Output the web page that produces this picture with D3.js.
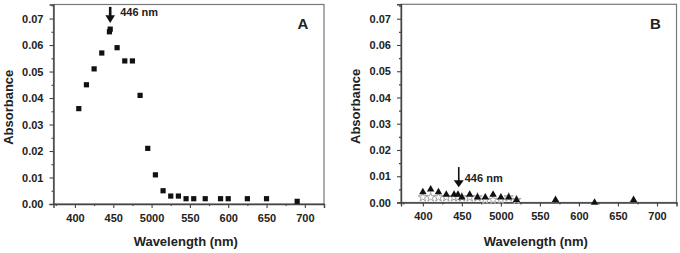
<!DOCTYPE html>
<html>
<head>
<meta charset="utf-8">
<script src="https://cdn.jsdelivr.net/npm/d3@7"></script>
<style>
  body { margin: 0; background: #fff; }
  svg text { font-family: "Liberation Sans", Arial, sans-serif; fill: #222; }
</style>
</head>
<body>
<svg id="chart" width="680" height="253"></svg>
<script>
const svg = d3.select("#chart");

// panel A: wavelength (nm) and absorbance
const waveA = [405, 415, 425, 435, 445, 446, 455, 465, 475, 485, 495, 505, 515, 525, 535, 545, 555, 570, 590, 600, 625, 650, 690];
const absA = [0.036, 0.045, 0.051, 0.057, 0.065, 0.066, 0.059, 0.054, 0.054, 0.041, 0.021, 0.011, 0.005, 0.003, 0.003, 0.002, 0.002, 0.002, 0.002, 0.002, 0.002, 0.002, 0.001];

// panel B: triangles (black) and stars (grey)
const waveB = [400, 410, 420, 430, 440, 445, 450, 460, 470, 480, 490, 500, 510, 520, 570, 620, 670];
const absB = [0.004, 0.005, 0.004, 0.003, 0.003, 0.003, 0.002, 0.003, 0.002, 0.002, 0.003, 0.002, 0.002, 0.001, 0.001, 0.000, 0.001];
const waveStar = [400, 410, 420, 430, 440, 445, 450, 460, 470, 480, 490, 500, 510, 520];
const absStar = [0.002, 0.002, 0.002, 0.002, 0.002, 0.002, 0.002, 0.002, 0.002, 0.001, 0.001, 0.001, 0.002, 0.001];

const xTicks = [400, 450, 500, 550, 600, 650, 700];
const xTickLabels = ["400", "450", "5000", "550", "600", "650", "700"];
const xMinor = [375, 425, 475, 525, 575, 625, 675, 725];
const yTicks = [0, 0.01, 0.02, 0.03, 0.04, 0.05, 0.06, 0.07];
const yTickLabels = ["0.00", "0.01", "0.02", "0.03", "0.04", "0.05", "0.06", "0.07"];
const yMinor = [0.005, 0.015, 0.025, 0.035, 0.045, 0.055, 0.065, 0.075];

const peak = 446;
const peakLabel = "446 nm";

function panel(opt) {
  const x = d3.scaleLinear().domain([372, 725]).range([opt.left, opt.right]);
  const y = d3.scaleLinear().domain([0, opt.yMax]).range([opt.bottom, opt.top]);
  const g = svg.append("g");

  // frame
  g.append("rect")
    .attr("x", opt.left).attr("y", opt.top)
    .attr("width", opt.right - opt.left).attr("height", opt.bottom - opt.top)
    .attr("fill", "none").attr("stroke", "#777").attr("stroke-width", 1.2);

  const ax = g.append("g").attr("transform", `translate(0,${opt.bottom})`)
    .call(d3.axisBottom(x).tickValues(xTicks).tickSize(4).tickPadding(6)
      .tickFormat((d, i) => xTickLabels[i]));
  g.append("g").attr("transform", `translate(0,${opt.bottom})`)
    .call(d3.axisBottom(x).tickValues(xMinor).tickSize(2).tickFormat(""))
    .select(".domain").remove();

  const ay = g.append("g").attr("transform", `translate(${opt.left},0)`)
    .call(d3.axisLeft(y).tickValues(yTicks).tickSize(4).tickPadding(6)
      .tickFormat((d, i) => yTickLabels[i]));
  g.append("g").attr("transform", `translate(${opt.left},0)`)
    .call(d3.axisLeft(y).tickValues(yMinor).tickSize(2).tickFormat(""))
    .select(".domain").remove();

  g.selectAll(".domain").attr("stroke", "#444").attr("stroke-width", 1.4);
  g.selectAll(".tick line").attr("stroke", "#444").attr("stroke-width", 1.1);
  g.selectAll(".tick text")
    .style("font-family", "'Liberation Sans', Arial, sans-serif")
    .style("font-size", "11px").style("font-weight", "bold").attr("fill", "#2a2a2a");

  g.append("text")
    .attr("x", (opt.left + opt.right) / 2 - 3).attr("y", 246)
    .attr("text-anchor", "middle")
    .style("font-size", "13px").style("font-weight", "bold").attr("fill", "#333")
    .text("Wavelength (nm)");
  g.append("text")
    .attr("transform", `translate(${opt.left - 41},${(opt.top + opt.bottom) / 2 + 3}) rotate(-90)`)
    .attr("text-anchor", "middle")
    .style("font-size", "13px").style("font-weight", "bold").attr("fill", "#333")
    .text("Absorbance");

  g.append("text")
    .attr("x", opt.right - 21).attr("y", 29)
    .attr("text-anchor", "middle")
    .style("font-size", "15px").style("font-weight", "bold").attr("fill", "#111")
    .text(opt.letter);

  return { g, x, y };
}

// ---- panel A ----
const A = panel({ left: 53.5, right: 324, top: 4.5, bottom: 204, yMax: 0.0753, letter: "A" });
A.g.selectAll("rect.pt")
  .data(waveA.map((w, i) => [w, absA[i]]))
  .join("rect").attr("class", "pt")
  .attr("x", d => A.x(d[0]) - 2.6).attr("y", d => A.y(d[1]) - 2.6)
  .attr("width", 5.2).attr("height", 5.2).attr("fill", "#111");

// arrow A
const axA = A.x(peak);
A.g.append("line")
  .attr("x1", axA).attr("x2", axA)
  .attr("y1", A.y(0.0744)).attr("y2", A.y(0.0705))
  .attr("stroke", "#111").attr("stroke-width", 2.6);
A.g.append("path")
  .attr("d", `M${axA - 4.8},${A.y(0.0712)} L${axA + 4.8},${A.y(0.0712)} L${axA},${A.y(0.0683)} Z`)
  .attr("fill", "#111");
A.g.append("text")
  .attr("x", axA + 10).attr("y", A.y(0.0726) + 4)
  .style("font-size", "11px").style("font-weight", "bold").attr("fill", "#333")
  .text(peakLabel);

// ---- panel B ----
const B = panel({ left: 401, right: 676.5, top: 4.3, bottom: 202.5, yMax: 0.0755, letter: "B" });
const star = d3.symbol().type(d3.symbolStar).size(26);
B.g.selectAll("path.star")
  .data(waveStar.map((w, i) => [w, absStar[i]]))
  .join("path").attr("class", "star")
  .attr("transform", d => `translate(${B.x(d[0])},${B.y(d[1])})`)
  .attr("d", star)
  .attr("fill", "#fff").attr("stroke", "#999").attr("stroke-width", 0.9);
const tri = d3.symbol().type(d3.symbolTriangle).size(24);
B.g.selectAll("path.tri")
  .data(waveB.map((w, i) => [w, absB[i]]))
  .join("path").attr("class", "tri")
  .attr("transform", d => `translate(${B.x(d[0])},${B.y(d[1])})`)
  .attr("d", tri).attr("fill", "#111");

// arrow B
const axB = B.x(peak);
B.g.append("line")
  .attr("x1", axB).attr("x2", axB)
  .attr("y1", B.y(0.0135)).attr("y2", B.y(0.0075))
  .attr("stroke", "#111").attr("stroke-width", 1.6);
B.g.append("path")
  .attr("d", `M${axB - 5},${B.y(0.0085)} L${axB + 5},${B.y(0.0085)} L${axB},${B.y(0.0058)} Z`)
  .attr("fill", "#111");
B.g.append("text")
  .attr("x", axB + 6).attr("y", B.y(0.0095) + 4)
  .style("font-size", "11px").style("font-weight", "bold").attr("fill", "#333")
  .text(peakLabel);
</script>
</body>
</html>
